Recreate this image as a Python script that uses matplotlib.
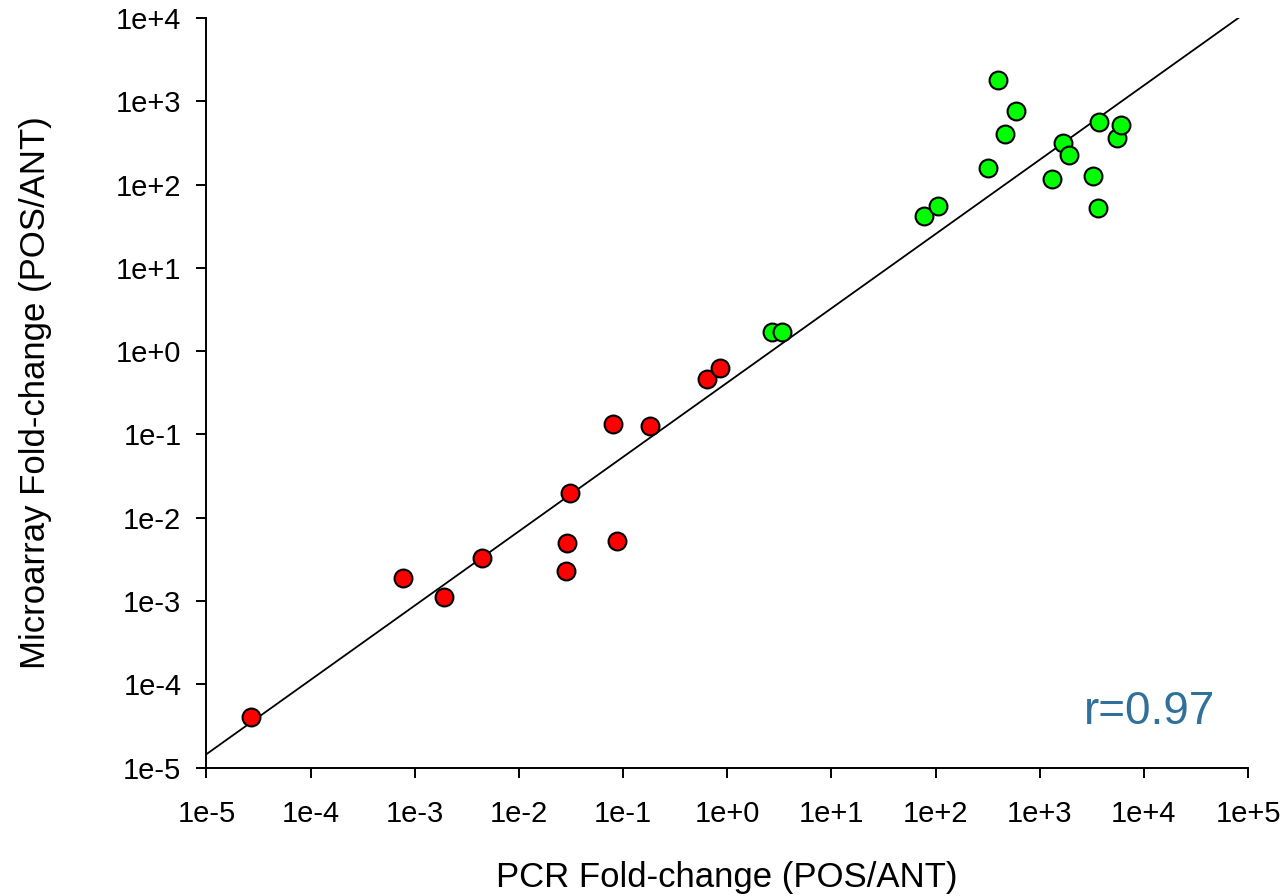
import matplotlib
matplotlib.use('Agg')
import matplotlib.pyplot as plt
import numpy as np

plt.rcParams['font.family'] = ['Liberation Sans', 'DejaVu Sans']

#fold-change values, down-regulated genes (red)
pcr_down = [2.69e-5, 7.73e-4, 1.91e-3, 4.41e-3, 0.0283, 0.029, 0.0311, 0.0869,
	0.0802, 0.181, 0.638, 0.857]
array_down = [4.09e-5, 1.87e-3, 1.11e-3, 3.26e-3, 2.31e-3, 4.93e-3, 0.0196, 5.25e-3,
	0.132, 0.126, 0.458, 0.631]

#fold-change values, up-regulated genes (green)
pcr_up = [2.69, 3.38, 76.7, 106, 316, 401, 464, 592, 1303, 1690, 1889, 3214,
	3614, 3690, 5534, 6012]
array_up = [1.71, 1.71, 42.1, 55.5, 158, 1791, 399, 760, 116, 316, 229, 126,
	52.5, 565, 363, 516]

#regression line in log10 space
fit_slope = 0.892
fit_intercept = -0.378
r_value = 0.97

x_ticks = [1e-5, 1e-4, 1e-3, 1e-2, 1e-1, 1e0, 1e1, 1e2, 1e3, 1e4, 1e5]
x_labels = ['1e-5', '1e-4', '1e-3', '1e-2', '1e-1', '1e+0', '1e+1', '1e+2', '1e+3', '1e+4', '1e+5']
y_ticks = [1e-5, 1e-4, 1e-3, 1e-2, 1e-1, 1e0, 1e1, 1e2, 1e3, 1e4]
y_labels = ['1e-5', '1e-4', '1e-3', '1e-2', '1e-1', '1e+0', '1e+1', '1e+2', '1e+3', '1e+4']

fig = plt.figure(figsize=(12.86, 8.96), dpi=100)
ax = fig.add_axes([0.1605, 0.1432, 0.8100, 0.8368])

#fit line across the whole x range, clipped by the y limits
line_x = np.array([x_ticks[0], x_ticks[-1]])
line_y = 10 ** (fit_slope * np.log10(line_x) + fit_intercept)
ax.plot(line_x, line_y, color='black', linewidth=1.3, zorder=2)

ax.scatter(pcr_down, array_down, s=165, color='#ff0000', edgecolors='black',
	linewidths=1.5, zorder=3)
ax.scatter(pcr_up, array_up, s=165, color='#00ff00', edgecolors='black',
	linewidths=1.5, zorder=3)

ax.set_xscale('log')
ax.set_yscale('log')
ax.set_xlim(x_ticks[0], x_ticks[-1])
ax.set_ylim(y_ticks[0], y_ticks[-1])
ax.set_xticks(x_ticks)
ax.set_xticklabels(x_labels)
ax.set_yticks(y_ticks)
ax.set_yticklabels(y_labels)
ax.minorticks_off()

for side in ['top', 'right']:
	ax.spines[side].set_visible(False)
for side in ['left', 'bottom']:
	ax.spines[side].set_linewidth(1.4)

ax.tick_params(axis='both', direction='out', length=7, width=1.4, labelsize=21)
ax.tick_params(axis='x', pad=16)
ax.tick_params(axis='y', pad=11)

ax.set_xlabel('PCR Fold-change (POS/ANT)', fontsize=25, labelpad=24)
ax.set_ylabel('Microarray Fold-change (POS/ANT)', fontsize=25, labelpad=46)

ax.text(0.968, 0.074, f'r={r_value:.2f}', transform=ax.transAxes, fontsize=33,
	color='#31709a', ha='right', va='center')

plt.savefig('out.png', dpi=100)
